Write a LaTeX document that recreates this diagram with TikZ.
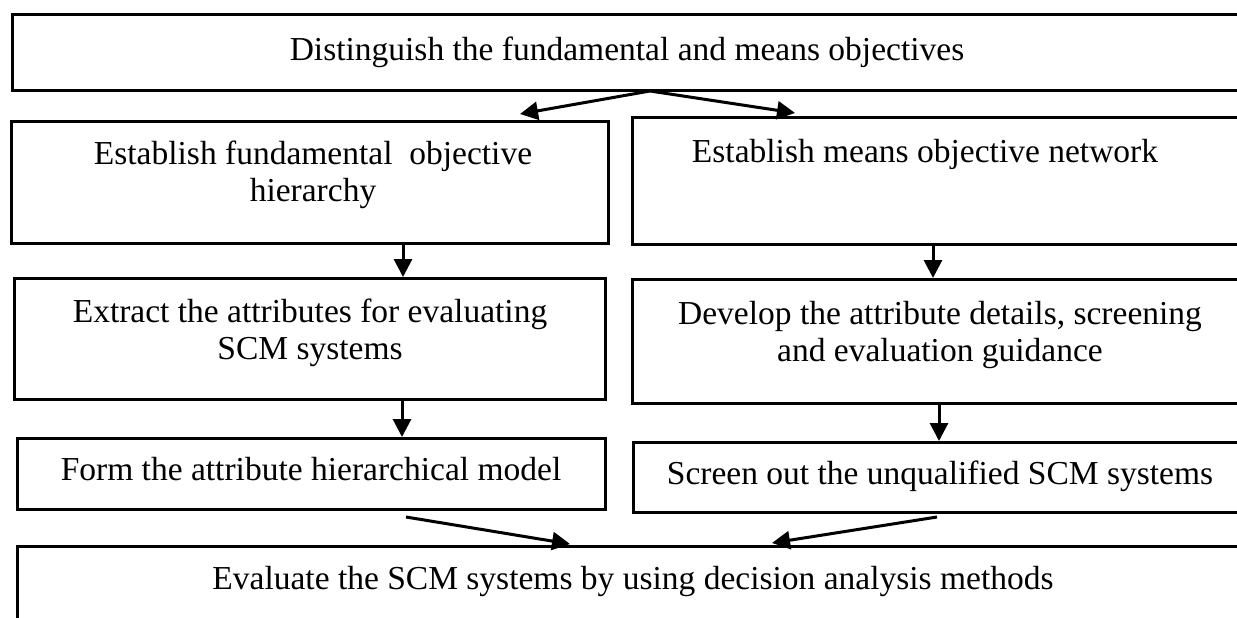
\documentclass[tikz,border=0pt]{standalone}
\usepackage{fontspec}
\setmainfont{Liberation Serif}
\usetikzlibrary{arrows.meta}
\begin{document}
\begin{tikzpicture}[x=1pt,y=-1pt,
  box/.style={draw=black, line width=3pt, rectangle, inner sep=0pt},
  lbl/.style={font=\fontsize{33.5}{36.5}\selectfont, align=center, inner sep=0pt, anchor=base},
  arr/.style={line width=3pt, -{Triangle[length=18pt,width=18pt]}}]
\useasboundingbox (0,0) rectangle (1237,618);
\clip (0,0) rectangle (1237,618);
% boxes
\node[box, minimum width=1238pt, minimum height=75pt] (top) at (631,52.5) {};
\node[box, minimum width=597pt, minimum height=122pt] (l2) at (309.5,182) {};
\node[box, minimum width=618pt, minimum height=127pt] (r2) at (941,180.5) {};
\node[box, minimum width=591pt, minimum height=121pt] (l3) at (309.5,338.5) {};
\node[box, minimum width=618pt, minimum height=124pt] (r3) at (941,341) {};
\node[box, minimum width=588pt, minimum height=71pt] (l4) at (311,473.5) {};
\node[box, minimum width=617pt, minimum height=70pt] (r4) at (941.5,477) {};
\node[box, minimum width=1233pt, minimum height=104pt] (bot) at (633.5,598) {};
% texts
\node[lbl] (t0) at (627,60) {Distinguish the fundamental and means objectives};
\node[lbl] (tl2) at (313,201) {Establish fundamental\ \ objective\\hierarchy};
\node[lbl] (tr2) at (925,162) {Establish means objective network};
\node[lbl] (tl3) at (310,359) {Extract the attributes for evaluating\\SCM systems};
\node[lbl] (tr3) at (940,361) {Develop the attribute details, screening\\and evaluation guidance};
\node[lbl] (tl4) at (311,480) {Form the attribute hierarchical model};
\node[lbl] (tr4) at (940,484) {Screen out the unqualified SCM systems};
\node[lbl] (tb) at (633,589) {Evaluate the SCM systems by using decision analysis methods};
% connector points
\coordinate (a0) at (650,91);
\coordinate (a1) at (520,114);
\coordinate (a2) at (795,113);
\coordinate (b1s) at (403,243);
\coordinate (b1e) at (403,277);
\coordinate (b2s) at (933,244);
\coordinate (b2e) at (933,278);
\coordinate (c1s) at (402,399);
\coordinate (c1e) at (402,437);
\coordinate (c2s) at (939,403);
\coordinate (c2e) at (939,441);
\coordinate (d1s) at (406,517);
\coordinate (d1e) at (570,544);
\coordinate (d2s) at (937,517);
\coordinate (d2e) at (772,543);
% arrows
\draw[arr] (a0) -- (a1);
\draw[arr] (a0) -- (a2);
\draw[arr] (b1s) -- (b1e);
\draw[arr] (b2s) -- (b2e);
\draw[arr] (c1s) -- (c1e);
\draw[arr] (c2s) -- (c2e);
\draw[arr] (d1s) -- (d1e);
\draw[arr] (d2s) -- (d2e);
\end{tikzpicture}
\end{document}
